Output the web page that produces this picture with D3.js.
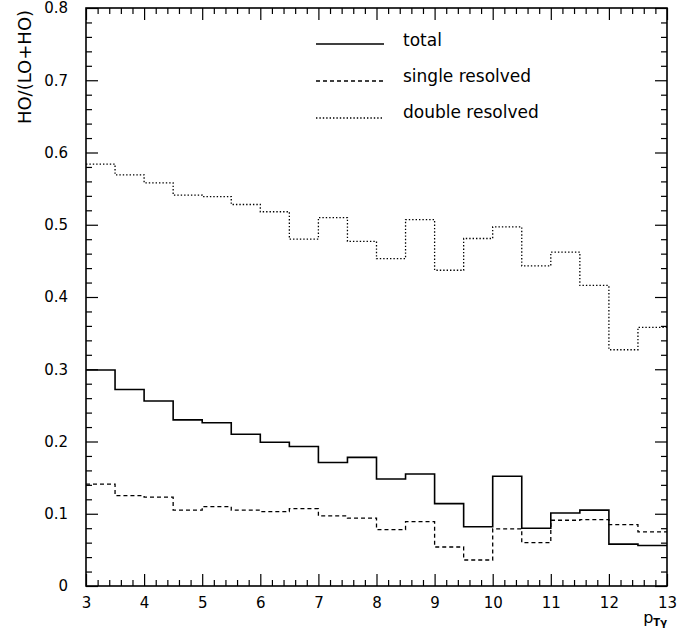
<!DOCTYPE html>
<html>
<head>
<meta charset="utf-8">
<script src="https://cdn.jsdelivr.net/npm/d3@7"></script>
<style>
  body { margin: 0; background: #fff; }
  svg { display: block; }
  text { font-family: "DejaVu Sans", sans-serif; fill: #000; }
</style>
</head>
<body>
<svg id="chart" width="699" height="636"></svg>
<script>
// ---- Data ----
const binEdges = [3, 3.5, 4, 4.5, 5, 5.5, 6, 6.5, 7, 7.5, 8, 8.5, 9, 9.5, 10, 10.5, 11, 11.5, 12, 12.5, 13];
const totalValues = [0.299, 0.272, 0.256, 0.230, 0.226, 0.210, 0.199, 0.193, 0.171, 0.178,
                     0.148, 0.155, 0.114, 0.082, 0.152, 0.080, 0.101, 0.105, 0.058, 0.056];
const singleValues = [0.141, 0.125, 0.123, 0.105, 0.110, 0.105, 0.103, 0.107, 0.097, 0.094,
                      0.078, 0.089, 0.054, 0.036, 0.079, 0.060, 0.091, 0.092, 0.085, 0.075];
const doubleValues = [0.584, 0.569, 0.558, 0.541, 0.539, 0.528, 0.518, 0.480, 0.510, 0.477,
                      0.453, 0.507, 0.437, 0.481, 0.497, 0.443, 0.462, 0.416, 0.327, 0.358];
const seriesNames = ["total", "single resolved", "double resolved"];
const xTicks = [3, 4, 5, 6, 7, 8, 9, 10, 11, 12, 13];
const yTicks = [0, 0.1, 0.2, 0.3, 0.4, 0.5, 0.6, 0.7, 0.8];
const yTickLabels = ["0", "0.1", "0.2", "0.3", "0.4", "0.5", "0.6", "0.7", "0.8"];
const xMinorTicks = [3.2,3.4,3.6,3.8,4.2,4.4,4.6,4.8,5.2,5.4,5.6,5.8,6.2,6.4,6.6,6.8,7.2,7.4,7.6,7.8,
                     8.2,8.4,8.6,8.8,9.2,9.4,9.6,9.8,10.2,10.4,10.6,10.8,11.2,11.4,11.6,11.8,12.2,12.4,12.6,12.8];
const yMinorTicks = [0.02,0.04,0.06,0.08,0.12,0.14,0.16,0.18,0.22,0.24,0.26,0.28,0.32,0.34,0.36,0.38,
                     0.42,0.44,0.46,0.48,0.52,0.54,0.56,0.58,0.62,0.64,0.66,0.68,0.72,0.74,0.76,0.78];

// ---- Layout ----
const pLeft = 86, pTop = 8, pRight = 667, pBottom = 586;
const svg = d3.select("#chart");
const x = d3.scaleLinear().domain([3, 13]).range([pLeft, pRight]);
const y = d3.scaleLinear().domain([0, 0.8]).range([pBottom, pTop]);

const styles = [
  { dash: null, width: 1.6 },
  { dash: "4,3", width: 1.3 },
  { dash: "1.4,2", width: 1.3 }
];
const series = [totalValues, singleValues, doubleValues];

// histograms
const line = d3.line().x(d => x(d[0])).y(d => y(d[1])).curve(d3.curveStepAfter);
series.forEach((vals, i) => {
  const pts = vals.map((v, k) => [binEdges[k], v]);
  pts.push([binEdges[binEdges.length - 1], vals[vals.length - 1]]);
  svg.append("path")
    .attr("d", line(pts))
    .attr("fill", "none")
    .attr("stroke", "#000")
    .attr("stroke-width", styles[i].width)
    .attr("stroke-dasharray", styles[i].dash);
});

// axes
function styleAxis(g) {
  g.select(".domain").remove();
  g.selectAll("line").attr("stroke", "#000").attr("stroke-width", 1.2);
}
const major = 12, minor = 6;
// left
svg.append("g").attr("transform", `translate(${pLeft},0)`)
  .call(d3.axisLeft(y).tickValues(yTicks).tickSize(-major).tickPadding(18)
        .tickFormat((d, i) => yTickLabels[i]))
  .call(styleAxis)
  .call(g => g.selectAll("text").style("font-size", "15px").style("font-family", "DejaVu Sans"));
svg.append("g").attr("transform", `translate(${pLeft},0)`)
  .call(d3.axisLeft(y).tickValues(yMinorTicks).tickSize(-minor).tickFormat(""))
  .call(styleAxis);
// right
svg.append("g").attr("transform", `translate(${pRight},0)`)
  .call(d3.axisRight(y).tickValues(yTicks).tickSize(-major).tickFormat(""))
  .call(styleAxis);
svg.append("g").attr("transform", `translate(${pRight},0)`)
  .call(d3.axisRight(y).tickValues(yMinorTicks).tickSize(-minor).tickFormat(""))
  .call(styleAxis);
// bottom
svg.append("g").attr("transform", `translate(0,${pBottom})`)
  .call(d3.axisBottom(x).tickValues(xTicks).tickSize(-major).tickPadding(11).tickFormat(d3.format("d")))
  .call(styleAxis)
  .call(g => g.selectAll("text").style("font-size", "15px").style("font-family", "DejaVu Sans"));
svg.append("g").attr("transform", `translate(0,${pBottom})`)
  .call(d3.axisBottom(x).tickValues(xMinorTicks).tickSize(-minor).tickFormat(""))
  .call(styleAxis);
// top
svg.append("g").attr("transform", `translate(0,${pTop})`)
  .call(d3.axisTop(x).tickValues(xTicks).tickSize(-major).tickFormat(""))
  .call(styleAxis);
svg.append("g").attr("transform", `translate(0,${pTop})`)
  .call(d3.axisTop(x).tickValues(xMinorTicks).tickSize(-minor).tickFormat(""))
  .call(styleAxis);

// frame
svg.append("rect")
  .attr("x", pLeft).attr("y", pTop)
  .attr("width", pRight - pLeft).attr("height", pBottom - pTop)
  .attr("fill", "none").attr("stroke", "#000").attr("stroke-width", 1.6);

// axis titles
svg.append("text")
  .attr("transform", "translate(31,67) rotate(-90)")
  .attr("text-anchor", "middle")
  .style("font-size", "18px")
  .text("HO/(LO+HO)");

const xt = svg.append("text").attr("x", 667).attr("y", 623).attr("text-anchor", "end")
  .style("font-size", "16px");
xt.append("tspan").text("p");
xt.append("tspan").attr("dy", 3).style("font-size", "10px").style("font-weight", "bold").text("Tγ");

// legend
const legY = [44, 81, 118];
seriesNames.forEach((name, i) => {
  svg.append("line")
    .attr("x1", 316).attr("x2", 384)
    .attr("y1", legY[i]).attr("y2", legY[i])
    .attr("stroke", "#000")
    .attr("stroke-width", styles[i].width)
    .attr("stroke-dasharray", styles[i].dash);
  svg.append("text")
    .attr("x", 403).attr("y", legY[i] + 1.5 - i)
    .style("font-size", "17px")
    .text(name);
});
</script>
</body>
</html>
